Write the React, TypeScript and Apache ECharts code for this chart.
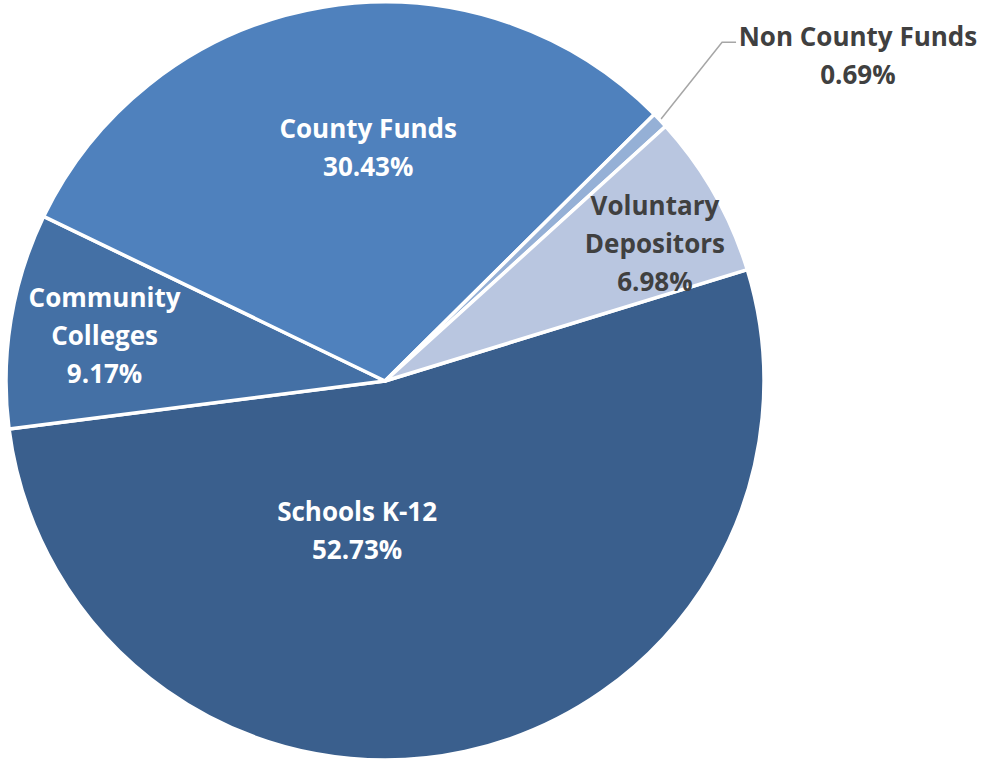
import React, { useEffect, useRef } from "react";
import * as echarts from "echarts";

const categories = ["Schools K-12", "Community Colleges", "County Funds", "Non County Funds", "Voluntary Depositors"];
const labelLines = ["Schools K-12", "Community\nColleges", "County Funds", "Non County Funds", "Voluntary\nDepositors"];
const values = [52.73, 9.17, 30.43, 0.69, 6.98];
const colors = ["#3A5F8D", "#4470A5", "#4F81BD", "#95B0D6", "#B9C6E0"];
const labelColors = ["#FFFFFF", "#FFFFFF", "#FFFFFF", "#404040", "#404040"];
// label anchor: [angle clockwise from 12 o'clock (deg), fraction of radius]
const labelAnchor: [number, number][] = [
  [190.6, 0.4],
  [279.4, 0.75],
  [355.9, 0.62],
  [55.4, 1.516],
  [62.9, 0.8],
];

const CX = 385;
const CY = 381;
const R = 379;

function polar(angleDeg: number, frac: number): [number, number] {
  const a = (angleDeg * Math.PI) / 180;
  return [CX + R * frac * Math.sin(a), CY - R * frac * Math.cos(a)];
}

export default function App() {
  const ref = useRef<HTMLDivElement>(null);
  useEffect(() => {
    if (!ref.current) return;
    const chart = echarts.init(ref.current, undefined, { renderer: "svg" });
    const total = values.reduce((a, b) => a + b, 0);
    const startFromNorth = 72.9;
    let acc = 0;
    const midAngles = values.map((v) => {
      const mid = startFromNorth + ((acc + v / 2) / total) * 360;
      acc += v;
      return mid;
    });
    chart.setOption({
      animation: false,
      backgroundColor: "#FFFFFF",
      series: [
        {
          type: "pie",
          center: [CX, CY],
          radius: [0, R],
          startAngle: 90 - startFromNorth,
          clockwise: true,
          avoidLabelOverlap: false,
          itemStyle: { borderColor: "#FFFFFF", borderWidth: 3.5 },
          label: {
            show: true,
            position: "inside",
            fontFamily: "Open Sans",
            fontWeight: "bold",
            fontSize: 26,
            lineHeight: 38,
            align: "center",
            formatter: (p: any) => `${labelLines[p.dataIndex]}\n${p.value.toFixed(2)}%`,
          },
          labelLine: { show: false },
          labelLayout: (p: any) => {
            const i = p.dataIndex;
            const [x, y] = polar(labelAnchor[i][0], labelAnchor[i][1]);
            const out: any = { x, y, align: "center", verticalAlign: "middle" };
            if (i === 3) {
              const edge = polar(midAngles[i], 1.0);
              const bend: [number, number] = [edge[0] + 62, edge[1] - 78];
              out.labelLinePoints = [edge, bend, [bend[0] + 14, bend[1]]];
            }
            return out;
          },
          data: values.map((v, i) => ({
            name: categories[i],
            value: v,
            itemStyle: { color: colors[i] },
            label: {
              color: labelColors[i],
              position: i === 3 ? "outside" : "inside",
            },
            labelLine: i === 3
              ? { show: true, length: 60, length2: 14, lineStyle: { color: "#A6A6A6", width: 1.5 } }
              : { show: false },
          })),
        },
      ],
    });
    return () => chart.dispose();
  }, []);
  return (
    <div
      ref={ref}
      style={{ position: "fixed", left: 0, top: 0, width: 982, height: 763 }}
    />
  );
}
